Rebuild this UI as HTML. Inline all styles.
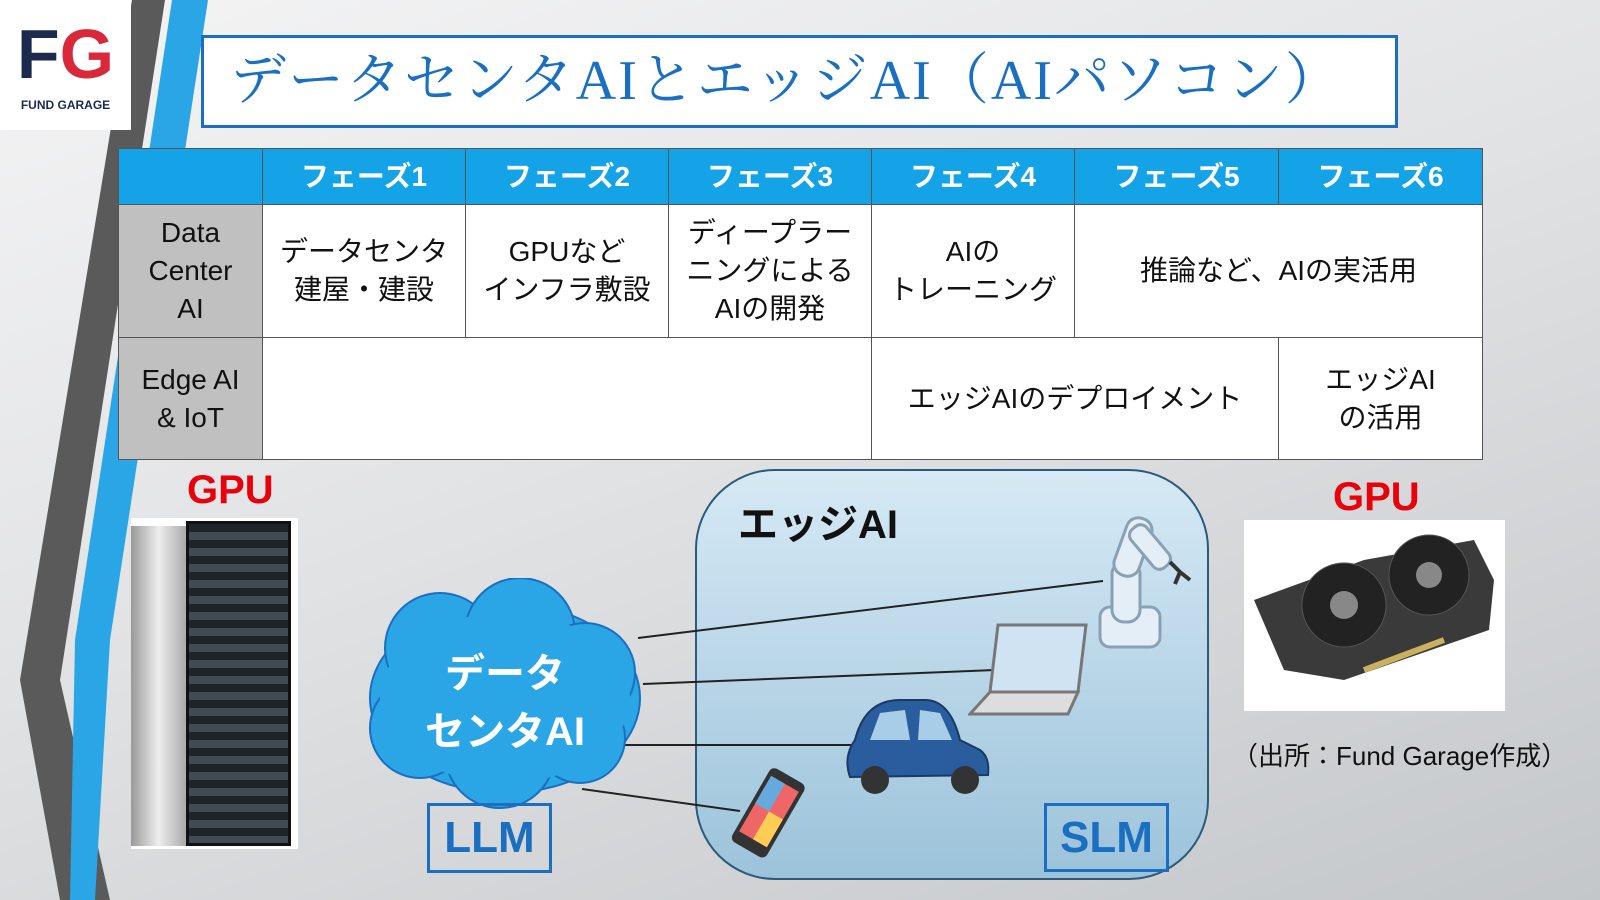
<!DOCTYPE html>
<html><head><meta charset="utf-8"><style>
*{margin:0;padding:0;box-sizing:border-box}
body{width:1600px;height:900px;overflow:hidden;position:relative;background:linear-gradient(160deg,#f4f4f5 0%,#e2e3e5 45%,#c4c7ca 100%);font-family:"Liberation Sans","Noto Sans CJK JP",sans-serif}
.abs{position:absolute}
table{position:absolute;left:118px;top:148px;border-collapse:collapse;width:1364px;table-layout:fixed}
td{border:1px solid #555;text-align:center;vertical-align:middle;font-size:28px;line-height:38px;color:#111;background:#fff;overflow:hidden;white-space:nowrap}
tr.h td{background:#14a3e6;color:#fff;height:56px;font-weight:bold}
td.l{background:#c0c0c0;font-size:28px}
.box{position:absolute;border:3px solid #1a6fc0;color:#1a6fc0;font-weight:bold;font-size:44px;text-align:center}
</style></head><body>
<svg class="abs" style="left:0;top:0" width="1600" height="900">
<polygon points="132,0 165,0 60,680 110,900 60,900 20,680" fill="#5a5a5a"/>
<polygon points="172,0 208,0 110,640 95,900 70,900 75,640" fill="#2aa6e6"/>
</svg>
<div class="abs" style="left:0;top:0;width:131px;height:130px;background:#fff;text-align:center">
<div style="font-size:70px;font-weight:bold;line-height:100px;margin-top:4px"><span style="color:#1c2a4f">F</span><span style="color:#d8283a">G</span></div>
<div style="font-size:12px;font-weight:bold;color:#1c2a4f;margin-top:-6px">FUND GARAGE</div></div>
<div class="abs" style="left:201px;top:35px;width:1197px;height:93px;background:#fff;border:3px solid #1a6fc0;color:#1a6fc0;font-family:'Liberation Serif','Noto Serif CJK SC',serif;font-size:56px;line-height:86px;padding-left:26px;letter-spacing:2px">データセンタAIとエッジAI（AIパソコン）</div>
<table>
<colgroup><col style="width:144px"><col style="width:203px"><col style="width:203px"><col style="width:203px"><col style="width:203px"><col style="width:204px"><col style="width:204px"></colgroup>
<tr class="h"><td class="l" style="background:#14a3e6"></td><td>フェーズ1</td><td>フェーズ2</td><td>フェーズ3</td><td>フェーズ4</td><td>フェーズ5</td><td>フェーズ6</td></tr>
<tr style="height:133px"><td class="l">Data<br>Center<br>AI</td><td>データセンタ<br>建屋・建設</td><td>GPUなど<br>インフラ敷設</td><td>ディープラー<br>ニングによる<br>AIの開発</td><td>AIの<br>トレーニング</td><td colspan="2">推論など、AIの実活用</td></tr>
<tr style="height:122px"><td class="l">Edge AI<br>&amp; IoT</td><td colspan="3"></td><td colspan="2">エッジAIのデプロイメント</td><td>エッジAI<br>の活用</td></tr>
</table>
<div class="abs" style="left:695px;top:469px;width:514px;height:411px;border:2px solid #2b5a7a;border-radius:80px;background:linear-gradient(180deg,#d6e9f5,#9cc3da)"></div>
<svg class="abs" style="left:0;top:0" width="1600" height="900">
<line x1="638" y1="638" x2="1103" y2="581" stroke="#222" stroke-width="2"/>
<line x1="643" y1="684" x2="995" y2="670" stroke="#222" stroke-width="2"/>
<line x1="622" y1="745" x2="857" y2="745" stroke="#222" stroke-width="2"/>
<line x1="582" y1="789" x2="740" y2="811" stroke="#222" stroke-width="2"/>
</svg>
<div class="abs" style="left:738px;top:492px;font-size:40px;font-weight:bold;color:#111">エッジAI</div>
<svg class="abs" style="left:360px;top:578px" width="290" height="240">
<g fill="#2aa6e6" stroke="#1a6fc0" stroke-width="2">
<ellipse cx="145" cy="120" rx="135" ry="95"/>
<circle cx="80" cy="70" r="55"/><circle cx="160" cy="55" r="55"/><circle cx="225" cy="95" r="50"/>
<circle cx="60" cy="150" r="50"/><circle cx="140" cy="175" r="55"/><circle cx="220" cy="160" r="45"/>
</g>
<ellipse cx="145" cy="120" rx="125" ry="85" fill="#2aa6e6"/>
</svg>
<div class="abs" style="left:400px;top:645px;width:210px;text-align:center;color:#fff;font-weight:bold;font-size:40px;line-height:58px">データ<br>センタAI</div>
<div class="box" style="left:427px;top:803px;width:125px;height:70px;line-height:64px">LLM</div>
<div class="box" style="left:1044px;top:803px;width:125px;height:69px;line-height:64px">SLM</div>
<svg class="abs" style="left:1090px;top:512px" width="110" height="145"><g fill="#e3eef6" stroke="#8aa0b5" stroke-width="3"><rect x="10" y="95" width="60" height="40" rx="10"/><rect x="22" y="50" width="28" height="60" rx="12"/><rect x="30" y="5" width="26" height="60" rx="12" transform="rotate(20 43 35)"/><rect x="50" y="10" width="20" height="50" rx="8" transform="rotate(-40 60 35)"/></g><path d="M80 50 l10 10 m0 0 l-5 12 m5 -12 l10 8" stroke="#333" stroke-width="4" fill="none"/></svg>
<svg class="abs" style="left:968px;top:622px" width="120" height="100"><path d="M30 3 L118 3 L110 70 L22 70 Z" fill="#cfe3f3" stroke="#777" stroke-width="3"/><path d="M22 70 L110 70 L100 92 L2 92 Z" fill="#ddd" stroke="#777" stroke-width="3"/></svg>
<svg class="abs" style="left:840px;top:695px" width="155" height="110"><path d="M15 45 Q25 5 60 5 L85 5 Q110 5 120 45 L140 55 Q150 62 148 80 L10 82 Q3 62 15 45Z" fill="#2a5d9e" stroke="#1a3a66" stroke-width="2"/><path d="M30 45 L40 18 L65 15 L70 45Z M78 45 L80 15 L100 18 L112 45Z" fill="#a8cde8"/><circle cx="35" cy="85" r="14" fill="#333"/><circle cx="125" cy="85" r="14" fill="#333"/></svg>
<svg class="abs" style="left:722px;top:765px" width="90" height="100"><g transform="rotate(30 45 50)"><rect x="25" y="5" width="40" height="85" rx="6" fill="#333"/><rect x="29" y="14" width="32" height="64" fill="#e66"/><rect x="29" y="14" width="16" height="32" fill="#6ad"/><rect x="45" y="46" width="16" height="32" fill="#fc5"/></g></svg>
<div class="abs" style="left:187px;top:468px;font-size:40px;font-weight:bold;color:#e8000a">GPU</div>
<div class="abs" style="left:131px;top:518px;width:167px;height:331px;background:#fff"><div style="position:absolute;left:0;top:8px;width:55px;height:320px;background:linear-gradient(90deg,#999,#eee,#aaa)"></div><div style="position:absolute;left:55px;top:3px;width:105px;height:325px;background:repeating-linear-gradient(180deg,#1f2428 0,#1f2428 8px,#3f4a52 8px,#3f4a52 16px);border:3px solid #111"></div></div>
<div class="abs" style="left:1333px;top:475px;font-size:40px;font-weight:bold;color:#e8000a">GPU</div>
<div class="abs" style="left:1244px;top:520px;width:261px;height:191px;background:#fff"><svg width="261" height="191"><polygon points="10,80 120,40 230,20 250,60 245,110 100,160 40,150" fill="#3a3a3a"/><circle cx="100" cy="85" r="42" fill="#222" stroke="#555"/><circle cx="185" cy="55" r="40" fill="#222" stroke="#555"/><circle cx="100" cy="85" r="14" fill="#888"/><circle cx="185" cy="55" r="13" fill="#888"/><line x1="120" y1="150" x2="200" y2="120" stroke="#cbb060" stroke-width="6"/></svg></div>
<div class="abs" style="left:1232px;top:736px;font-size:26px;color:#111">（出所：Fund Garage作成）</div>
</body></html>
